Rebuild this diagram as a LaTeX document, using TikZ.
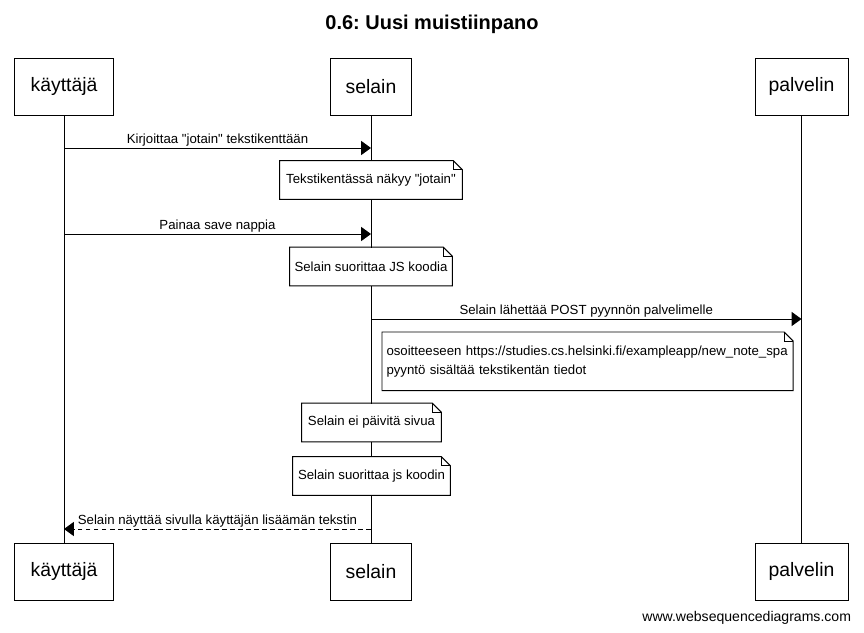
\documentclass[tikz,border=0pt]{standalone}
\usepackage{fontspec}
\setmainfont{Liberation Sans}[Ligatures=TeXOff]
\usetikzlibrary{arrows.meta,positioning,calc}
\frenchspacing

\tikzset{
  actor/.style={rectangle, draw, line width=0.7pt, minimum height=1.425cm, font=\fontsize{13.8}{16}\selectfont},
  notebox/.style={rectangle, fill=white, minimum height=0.95cm, inner xsep=3pt, font=\fontsize{9.4}{13.5}\selectfont},
  lifeline/.style={line width=0.7pt},
  msg/.style={line width=0.7pt, -{Triangle[length=7pt,width=10pt]}},
  reply/.style={msg, dash pattern=on 3.5pt off 2.2pt},
  msglabel/.style={above, inner sep=1pt, font=\fontsize{9.4}{11}\selectfont}
}

% taitettu kulma muistiinpanoon
\newcommand{\notefold}[1]{%
  \draw[line width=0.7pt] (#1.north west) -- ($(#1.north east)+(-9,0)$) -- ($(#1.north east)+(0,9)$) -- (#1.south east) -- (#1.south west) -- cycle;
  \draw[line width=0.5pt] ($(#1.north east)+(-9,0)$) -- ($(#1.north east)+(-9,9)$) -- ($(#1.north east)+(0,9)$);
}

\begin{document}
\begin{tikzpicture}[x=0.025cm, y=-0.025cm]
    \useasboundingbox (0,0) rectangle (864,633);

    % Title
    \node[font=\fontsize{14.2}{17}\selectfont\bfseries] (title) at (432,24) {0.6: Uusi muistiinpano};

    % Osapuolet
    \node[actor, minimum width=2.45cm] (kayttaja) at (64,86.5) {käyttäjä};
    \node[actor, minimum width=2cm] (selain) at (371,86.5) {selain};
    \node[actor, minimum width=2.325cm] (palvelin) at (801.5,86.5) {palvelin};
    \node[actor, minimum width=2.45cm] (kayttajaAla) at (64,571.5) {käyttäjä};
    \node[actor, minimum width=2cm] (selainAla) at (371,571.5) {selain};
    \node[actor, minimum width=2.325cm] (palvelinAla) at (801.5,571.5) {palvelin};

    % Elamanviivat
    \draw[lifeline] (kayttaja) -- (kayttajaAla);
    \draw[lifeline] (selain) -- (selainAla);
    \draw[lifeline] (palvelin) -- (palvelinAla);

    % Viestit
    \coordinate (m1) at (0,148);
    \draw[msg] (kayttaja |- m1) -- node[msglabel] {Kirjoittaa "jotain" tekstikenttään} (selain |- m1);

    \node[notebox, minimum width=4.55cm] (note1) at (371,180) {Tekstikentässä näkyy "jotain"};
    \notefold{note1}

    \coordinate (m2) at (0,234);
    \draw[msg] (kayttaja |- m2) -- node[msglabel] {Painaa save nappia} (selain |- m2);

    \node[notebox, minimum width=4.05cm] (note2) at (371,266.5) {Selain suorittaa JS koodia};
    \notefold{note2}

    \coordinate (m3) at (0,319);
    \draw[msg] (selain |- m3) -- node[msglabel] {Selain lähettää POST pyynnön palvelimelle} (palvelin |- m3);

    \node[notebox, anchor=north west, minimum height=1.45cm, text width=10.05cm, align=left] (note3) at (382,332)
        {osoitteeseen https://studies.cs.helsinki.fi/exampleapp/new\_note\_spa\\pyyntö sisältää tekstikentän tiedot};
    \notefold{note3}

    \node[notebox, minimum width=3.475cm] (note4) at (371.5,422.5) {Selain ei päivitä sivua};
    \notefold{note4}

    \node[notebox, minimum width=3.925cm] (note5) at (371.5,476) {Selain suorittaa js koodin};
    \notefold{note5}

    \coordinate (m4) at (0,529);
    \draw[reply] (selain |- m4) -- node[msglabel] {Selain näyttää sivulla käyttäjän lisäämän tekstin} (kayttaja |- m4);

    % Footer
    \node[anchor=east, font=\fontsize{10}{12}\selectfont] (footer) at (856,618) {www.websequencediagrams.com};
\end{tikzpicture}
\end{document}
